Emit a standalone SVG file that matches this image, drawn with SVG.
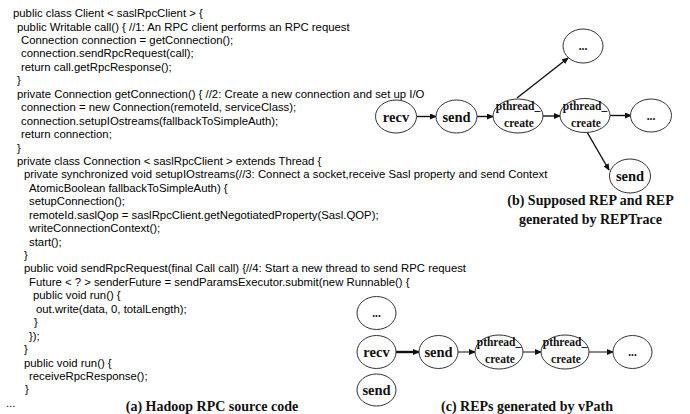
<svg xmlns="http://www.w3.org/2000/svg" width="690" height="414" viewBox="0 0 690 414">
<defs>
<style>
.code{font-family:"Liberation Sans",Arial,sans-serif;font-size:11.35px;fill:#000}
.cap{font-family:"Liberation Serif",serif;font-weight:bold;font-size:14px;fill:#111;text-anchor:middle}
.lbl{font-family:"Liberation Serif",serif;font-weight:bold;font-size:14.5px;fill:#111;text-anchor:middle}
.sm{font-family:"Liberation Serif",serif;font-weight:bold;font-size:11.5px;fill:#111;text-anchor:middle}
.nd{fill:#fff;stroke:#333;stroke-width:1}
.ed{stroke:#111;stroke-width:1.4;fill:none;marker-end:url(#ah)}
</style>
<marker id="ah" markerUnits="userSpaceOnUse" markerWidth="7" markerHeight="6" refX="6" refY="3" orient="auto">
<path d="M0,0 L7,3 L0,6 z" fill="#111"/>
</marker>
</defs>
<rect width="690" height="414" fill="#fff"/>
<g id="code">
<text class="code" x="13" y="17">public class Client &lt; saslRpcClient &gt; {</text>
<text class="code" x="17" y="30.5">public Writable call() { //1: An RPC client performs an RPC request</text>
<text class="code" x="21" y="44">Connection connection = getConnection();</text>
<text class="code" x="21" y="57.4">connection.sendRpcRequest(call);</text>
<text class="code" x="21" y="70.8">return call.getRpcResponse();</text>
<text class="code" x="17" y="84.3">}</text>
<text class="code" x="17" y="97.7">private Connection getConnection() { //2: Create a new connection and set up I/O</text>
<text class="code" x="21" y="111.2">connection = new Connection(remoteId, serviceClass);</text>
<text class="code" x="21" y="124.6">connection.setupIOstreams(fallbackToSimpleAuth);</text>
<text class="code" x="21" y="138">return connection;</text>
<text class="code" x="17" y="151.5">}</text>
<text class="code" x="17" y="164.9">private class Connection &lt; saslRpcClient &gt; extends Thread {</text>
<text class="code" x="24" y="178.4">private synchronized void setupIOstreams(//3: Connect a socket,receive Sasl property and send Context</text>
<text class="code" x="29" y="191.8">AtomicBoolean fallbackToSimpleAuth) {</text>
<text class="code" x="29" y="205.2">setupConnection();</text>
<text class="code" x="29" y="218.7">remoteId.saslQop = saslRpcClient.getNegotiatedProperty(Sasl.QOP);</text>
<text class="code" x="29" y="232.1">writeConnectionContext();</text>
<text class="code" x="29" y="245.6">start();</text>
<text class="code" x="24" y="259">}</text>
<text class="code" x="24" y="272.4">public void sendRpcRequest(final Call call) {//4: Start a new thread to send RPC request</text>
<text class="code" x="29" y="285.9">Future &lt; ? &gt; senderFuture = sendParamsExecutor.submit(new Runnable() {</text>
<text class="code" x="33" y="299.3">public void run() {</text>
<text class="code" x="36" y="312.8">out.write(data, 0, totalLength);</text>
<text class="code" x="34" y="326.2">}</text>
<text class="code" x="29" y="339.6">});</text>
<text class="code" x="24" y="353.1">}</text>
<text class="code" x="24" y="366.5">public void run() {</text>
<text class="code" x="29" y="380">receiveRpcResponse();</text>
<text class="code" x="25" y="393.4">}</text>
<text class="code" x="6" y="407">...</text>
</g>
<text class="cap" x="212" y="411">(a) Hadoop RPC source code</text>
<g id="connectors">
<line class="ed" x1="417" y1="116.5" x2="436" y2="116.5"/>
<line class="ed" x1="477" y1="116.5" x2="493" y2="116.5"/>
<line class="ed" x1="543" y1="116" x2="560" y2="116"/>
<line class="ed" x1="610" y1="115.5" x2="631" y2="115.5"/>
<line class="ed" x1="517" y1="98" x2="568" y2="58"/>
<line class="ed" x1="587" y1="132" x2="609" y2="170"/>
<line class="ed" x1="396" y1="352" x2="419" y2="352" style="stroke-width:2.4"/>
<line class="ed" x1="458" y1="352" x2="475" y2="352" style="stroke-width:1"/>
<line class="ed" x1="523" y1="352" x2="541" y2="352" style="stroke-width:1"/>
<line class="ed" x1="589" y1="352" x2="613" y2="352" style="stroke-width:1"/>
</g>
<g id="b_recv"><ellipse class="nd" cx="396" cy="116.5" rx="20.5" ry="16.5"/><text class="lbl" x="396" y="121.5">recv</text></g>
<g id="b_send"><ellipse class="nd" cx="456.5" cy="116.5" rx="20.5" ry="16.5"/><text class="lbl" x="456.5" y="121.5">send</text></g>
<g id="b_pt1"><ellipse class="nd" cx="518" cy="116" rx="25" ry="17"/><text class="sm" x="518" y="110">pthread_</text><text class="sm" x="519" y="127">create</text></g>
<g id="b_pt2"><ellipse class="nd" cx="585" cy="115.5" rx="25" ry="17"/><text class="sm" x="585" y="109.5">pthread_</text><text class="sm" x="586" y="126.5">create</text></g>
<g id="b_dots"><ellipse class="nd" cx="651" cy="115.5" rx="20.5" ry="16.5"/><text class="sm" x="651" y="119.5">...</text></g>
<g id="b_dots_top"><ellipse class="nd" cx="583" cy="46" rx="20" ry="17"/><text class="sm" x="583" y="50">...</text></g>
<g id="b_send2"><ellipse class="nd" cx="630" cy="176" rx="20.5" ry="17"/><text class="lbl" x="630" y="181">send</text></g>
<text class="cap" x="590.5" y="205">(b) Supposed REP and REP</text>
<text class="cap" x="590.5" y="224">generated by REPTrace</text>
<g id="c_dots_a"><ellipse class="nd" cx="376.5" cy="313" rx="19.5" ry="16.5"/><text class="sm" x="376.5" y="317">...</text></g>
<g id="c_recv"><ellipse class="nd" cx="376.5" cy="352" rx="19.5" ry="16.5"/><text class="lbl" x="376.5" y="357">recv</text></g>
<g id="c_send_b"><ellipse class="nd" cx="376.5" cy="390" rx="19.5" ry="16"/><text class="lbl" x="376.5" y="395">send</text></g>
<g id="c_send"><ellipse class="nd" cx="438.5" cy="352" rx="19.5" ry="16.5"/><text class="lbl" x="438.5" y="357">send</text></g>
<g id="c_pt1"><ellipse class="nd" cx="499" cy="352" rx="24" ry="17"/><text class="sm" x="499" y="346">pthread_</text><text class="sm" x="500" y="363">create</text></g>
<g id="c_pt2"><ellipse class="nd" cx="565" cy="352" rx="24" ry="17"/><text class="sm" x="565" y="346">pthread_</text><text class="sm" x="566" y="363">create</text></g>
<g id="c_dots"><ellipse class="nd" cx="632.5" cy="352" rx="19.5" ry="16.5"/><text class="sm" x="632.5" y="356">...</text></g>
<text class="cap" x="527" y="411">(c) REPs generated by vPath</text>
</svg>
